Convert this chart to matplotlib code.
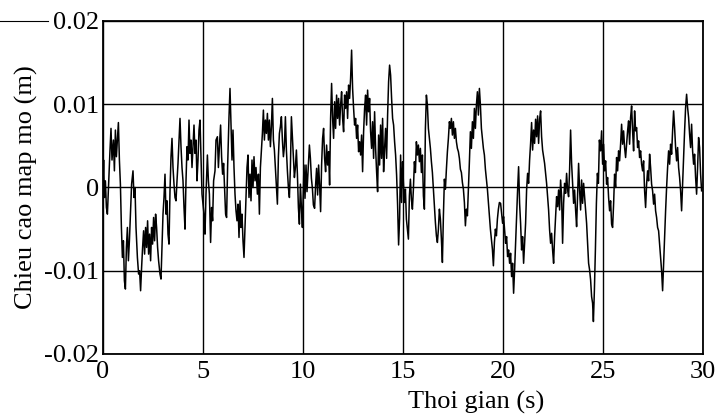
import numpy as np
import matplotlib.pyplot as plt
from matplotlib.lines import Line2D

plt.rcParams['font.family'] = ['Liberation Serif', 'DejaVu Serif']

# ==========================
# DATA, time in s, height in mm
# ==========================
t_0_5 = [0, 0.03, 0.07, 0.12, 0.17, 0.22, 0.28, 0.35, 0.4, 0.45,
         0.52, 0.57, 0.62, 0.67, 0.72, 0.77, 0.82, 0.87, 0.92, 0.97,
         1.02, 1.07, 1.12, 1.17, 1.22, 1.27, 1.32, 1.37, 1.43, 1.5,
         1.55, 1.6, 1.65, 1.72, 1.78, 1.83, 1.88, 1.93, 1.98, 2.03,
         2.08, 2.13, 2.18, 2.23, 2.28, 2.33, 2.38, 2.43, 2.48, 2.53,
         2.58, 2.63, 2.68, 2.73, 2.78, 2.85, 2.9, 2.95, 3.0, 3.05,
         3.1, 3.15, 3.2, 3.25, 3.3, 3.35, 3.4, 3.45, 3.5, 3.55,
         3.6, 3.65, 3.7, 3.75, 3.8, 3.85, 3.9, 3.95, 4.0, 4.05,
         4.1, 4.15, 4.2, 4.25, 4.3, 4.35, 4.4, 4.45, 4.5, 4.55,
         4.6, 4.65, 4.7, 4.75, 4.8, 4.85, 4.9, 4.95]
z_0_5 = [0.4, 3.3, -1.2, 0.8, -2.4, -3.2, 0.4, 4.5, 7.1, 3.3,
         5.7, 2.0, 6.9, 3.7, 5.7, 7.8, 3.3, 0.4, -4.8, -8.4,
         -6.4, -11.2, -12.2, -7.2, -4.8, -8.8, -6.4, -3.2, 0.4, 2.0,
         -1.2, 0, -4.8, -8.4, -10.4, -10, -12.4, -9.6, -7.2, -5.2,
         -8.0, -4.8, -7.2, -4.0, -8.0, -5.6, -8.8, -4.8, -6.8, -3.6,
         -6.4, -3.2, -4.8, -7.2, -8.8, -10.4, -11, -7.2, -3.2, -1.2,
         1.6, -3.2, -1.6, -5.6, -6.8, -0.4, 3.7, 5.9, 2.4, 0.4,
         -1.2, -1.6, 0.8, 2.9, 5.7, 8.3, 4.9, 2.4, 0.8, -2.4,
         -5.0, 0.8, 4.9, 3.3, 8.1, 4.1, 5.7, 2.4, 4.9, 7.5,
         4.1, 5.7, 0.8, 3.3, 6.9, 8.1, 3.7, -0.8]

t_5_10 = [5.05, 5.1, 5.15, 5.22, 5.27, 5.32, 5.38, 5.43, 5.48, 5.53,
          5.6, 5.65, 5.72, 5.77, 5.82, 5.88, 5.93, 5.98, 6.03, 6.08,
          6.13, 6.18, 6.23, 6.3, 6.35,
          6.4, 6.45, 6.5, 6.55, 6.6, 6.65, 6.7, 6.75, 6.8, 6.85,
          6.9, 6.95, 7.0, 7.05, 7.1, 7.15, 7.2, 7.25, 7.3, 7.35,
          7.4, 7.45, 7.5, 7.55, 7.6, 7.65,
          7.72, 7.77, 7.82, 7.87, 7.92, 7.97, 8.02, 8.07, 8.12, 8.17,
          8.22, 8.27, 8.32, 8.37, 8.42, 8.47, 8.52, 8.57, 8.62, 8.67,
          8.72, 8.77, 8.82, 8.87, 8.92, 8.97, 9.02, 9.07, 9.12, 9.17,
          9.22, 9.27, 9.32, 9.37, 9.42, 9.47, 9.52, 9.57, 9.62, 9.67,
          9.72, 9.77, 9.82, 9.87, 9.92, 9.97]
z_5_10 = [-3.2, -5.6, -0.8, 3.9, 0.8, -0.8, -6.6, -2.4, -4.0, 0.8,
          2.0, 5.7, 6.1, 2.4, 4.9, 7.5, 3.7, 1.6, 2.9, 0,
          -3.2, -3.6, 2.4, 8.5, 11.9,
          7.7, 3.3, 6.9, 2.4, -0.8, -2.8, -4.0, -2.0, -6.0, -1.6,
          -4.8, -3.2, -6.4, -8.4, -4.8, -1.2, 2.4, 3.9, -1.2, 1.6,
          -1.6, 3.3, 0, 3.7, 0.8, 2.4,
          -0.8, 1.6, -3.2, 2.4, 4.5, 6.5, 9.3, 5.7, 8.1, 6.5,
          8.9, 5.7, 8.1, 4.9, 7.3, 10.7, 5.7, 4.5, 2.4, 0.4,
          -2.0, 3.7, 6.5, 7.3, 8.5, 5.7, 3.7, 4.9, 8.5, 4.5,
          2.0, 0, -1.2, 2.4, 8.5, 6.1, 3.7, 1.2, 2.4, 4.5,
          1.6, -2.4, -4.4, 0.4, -2.4, -4.8]

t_10_15 = [10.05, 10.1, 10.15, 10.2, 10.25, 10.32, 10.37, 10.42, 10.47, 10.52,
           10.58, 10.63, 10.68, 10.73, 10.78, 10.83, 10.88, 10.93, 10.98, 11.03,
           11.08, 11.13, 11.18, 11.23, 11.28, 11.33, 11.38, 11.43, 11.48, 11.53,
           11.58, 11.63, 11.68, 11.73, 11.78, 11.83, 11.88, 11.93, 11.98, 12.03,
           12.08, 12.13, 12.18, 12.23, 12.28, 12.33, 12.38, 12.43, 12.48, 12.53,
           12.58, 12.63, 12.68, 12.73, 12.78, 12.83, 12.88, 12.93, 12.98, 13.03,
           13.08, 13.13, 13.18, 13.23, 13.28, 13.33, 13.38, 13.43, 13.48, 13.53,
           13.58, 13.63, 13.68, 13.73, 13.78, 13.83, 13.88, 13.93, 13.98, 14.03,
           14.08, 14.13, 14.18, 14.23, 14.28, 14.33, 14.38, 14.43, 14.48, 14.53,
           14.58, 14.63, 14.68, 14.73, 14.78, 14.83]
z_10_15 = [2.7, -1.3, 2.7, -0.5, 1.9, 5.1, 3.5, 1.1, -0.1, -2.1,
           -2.5, 0.3, 2.3, -0.9, 2.7, 0.3, -2.9, 2.7, 5.9, 7.1,
           3.5, 1.9, 5.1, 2.7, 4.3, 0.3, 8.3, 12.5, 8.3, 5.9,
           10.3, 7.1, 11.1, 8.3, 10.7, 7.5, 9.9, 11.5, 8.3, 6.7,
           11.1, 9.5, 11.5, 8.3, 12.3, 10.7, 13.1, 16.5, 11.9, 9.5,
           7.5, 8.3, 5.9, 7.5, 4.3, 5.5, 3.9, 6.3, 1.9, 6.7,
           9.5, 11.1, 7.5, 11.7, 9.1, 10.7, 6.7, 4.7, 7.9, 3.5,
           9.1, 4.7, 1.9, -0.5, 6.3, 2.7, 7.5, 3.5, 8.3, 1.9,
           4.7, 7.1, 3.5, 8.7, 12.7, 14.7, 13.5, 10.7, 8.3, 7.5,
           5.5, 3.9, 1.5, -2.1, -6.9, -3.7]

t_15_20 = [14.88, 14.93, 14.98, 15.02, 15.07, 15.12, 15.17, 15.22, 15.27, 15.32,
           15.37, 15.42, 15.47, 15.52, 15.57, 15.62, 15.67, 15.72, 15.77, 15.82,
           15.87, 15.92, 15.97, 16.02, 16.07, 16.12, 16.17, 16.22, 16.27, 16.32,
           16.37, 16.42, 16.47, 16.52, 16.57, 16.62, 16.67, 16.72, 16.77, 16.82,
           16.87, 16.92, 16.97, 17.02, 17.07, 17.12, 17.17, 17.22, 17.27, 17.32,
           17.37, 17.42, 17.47, 17.52, 17.57, 17.62, 17.67, 17.72, 17.77, 17.82,
           17.87, 17.92, 17.97, 18.02, 18.07, 18.12, 18.17, 18.22, 18.27, 18.32,
           18.37, 18.42, 18.47, 18.52, 18.57, 18.62, 18.67, 18.72, 18.77, 18.82,
           18.87, 18.92, 18.97, 19.02, 19.07, 19.12, 19.17, 19.22, 19.27, 19.32,
           19.37, 19.42, 19.47, 19.52, 19.57, 19.62, 19.67, 19.72, 19.77, 19.82]
z_15_20 = [3.9, -1.8, 3.1, 0.6, -1.8, -0.2, -3.8, -5.0, -6.2, -1.0,
           1.0, -1.4, -2.6, -0.2, 3.1, 1.8, 5.5, 3.9, 5.1, 3.1,
           4.7, 1.8, 3.9, -1.0, -2.6, 7.1, 11.1, 9.9, 7.1, 5.9,
           4.7, 3.1, 1.8, -0.2, -2.2, -4.2, -5.8, -6.6, -5.0, -2.6,
           -3.8, -6.2, -9.0, -3.4, 1.0, -0.2, 2.2, 4.3, 5.9, 7.9,
           7.1, 8.3, 6.3, 7.9, 5.9, 7.1, 5.5, 4.7, 4.3, 3.5,
           2.2, 1.8, 0.6, -0.2, -1.8, -4.6, -2.6, -3.4, -0.2, 3.1,
           6.7, 4.7, 7.9, 5.9, 9.5, 7.1, 9.9, 11.5, 8.7, 11.9,
           9.9, 7.1, 5.9, 4.7, 3.9, 2.2, 1.0, -0.2, -1.8, -3.4,
           -5.0, -6.2, -7.4, -9.4, -6.6, -5.0, -5.8, -3.8, -2.6, -1.8]

t_20_25 = [19.88, 19.93, 19.98, 20.03, 20.08, 20.13, 20.18, 20.23, 20.28, 20.33,
           20.38, 20.43, 20.48, 20.53, 20.58, 20.63, 20.68, 20.73, 20.78, 20.83,
           20.88, 20.93, 20.98, 21.03, 21.08, 21.13, 21.18, 21.23, 21.28, 21.33,
           21.38, 21.43, 21.48, 21.53, 21.58, 21.63, 21.68, 21.73, 21.78, 21.83,
           21.88, 21.93, 21.98, 22.03, 22.08, 22.13, 22.18, 22.23, 22.28, 22.33,
           22.38, 22.43, 22.48, 22.53, 22.58, 22.63, 22.68, 22.73, 22.78, 22.83,
           22.88, 22.93, 22.98, 23.03, 23.08, 23.13, 23.18, 23.23, 23.28, 23.33,
           23.38, 23.43, 23.48, 23.53, 23.58, 23.63, 23.68, 23.73, 23.78, 23.83,
           23.88, 23.93, 23.98, 24.03, 24.08, 24.13, 24.18, 24.23, 24.28, 24.33,
           24.38, 24.43, 24.48, 24.52, 24.57, 24.62, 24.67, 24.72, 24.77, 24.82]
z_20_25 = [-1.9, -3.1, -4.3, -3.5, -5.1, -6.7, -5.9, -8.3, -7.5, -9.1,
           -7.9, -10.7, -9.1, -12.7, -9.9, -6.7, -3.5, -0.3, 2.5, -1.9,
           -4.3, -7.5, -5.9, -9.1, -6.7, -4.3, -0.3, 1.7, 0.5, 3.3,
           5.3, 7.8, 4.5, 6.9, 5.3, 8.2, 6.1, 8.6, 5.3, 8.2,
           9.2, 6.1, 4.5, 3.7, 2.9, 1.7, 0.5, -1.1, -2.7, -5.1,
           -6.7, -5.5, -7.5, -9.1, -5.9, -3.5, -1.1, -2.3, -0.3, -2.7,
           0.9, -1.1, -6.7, -1.9, 0.5, -0.7, 1.7, -0.3, -1.1, 2.1,
           6.9, 2.9, 0.5, -1.9, -0.3, -2.7, -4.7, -1.1, 2.9, -0.3,
           -2.7, 0.9, -1.9, 0.5, -1.1, -2.7, -4.3, -6.7, -9.1, -9.9,
           -11.1, -13.1, -13.9, -16.1, -12.3, -7.5, -1.9, 1.7, 0.5, 5.7]

t_25_30 = [24.88, 24.93, 24.98, 25.03, 25.08, 25.13, 25.18, 25.23, 25.28, 25.33,
           25.38, 25.43, 25.48, 25.53, 25.58, 25.63, 25.68, 25.73, 25.78, 25.83,
           25.88, 25.93, 25.98, 26.03, 26.08, 26.13, 26.18, 26.23, 26.28, 26.33,
           26.38, 26.43, 26.48, 26.53, 26.58, 26.63, 26.68, 26.73, 26.78, 26.83,
           26.88, 26.93, 26.98, 27.03, 27.08, 27.13, 27.18, 27.23, 27.28, 27.33,
           27.38, 27.43, 27.48, 27.53, 27.58, 27.63, 27.68, 27.73, 27.78, 27.83,
           27.88, 27.93, 27.98, 28.03, 28.08, 28.13, 28.18, 28.23, 28.28, 28.33,
           28.38, 28.43, 28.48, 28.53, 28.58, 28.63, 28.68, 28.73, 28.78, 28.83,
           28.88, 28.93, 28.98, 29.03, 29.08, 29.13, 29.18, 29.23, 29.28, 29.33,
           29.38, 29.43, 29.48, 29.53, 29.58, 29.63, 29.68, 29.73, 29.78, 29.83,
           29.88, 29.93]
z_25_30 = [4.4, 6.8, 2.8, 5.2, 2.0, 3.2, 0.4, 1.2, -1.2, -2.8,
           -1.6, -4.4, -4.8, -2.0, 1.6, 0, 3.6, 2.0, 4.4, 3.2,
           5.2, 7.6, 5.2, 6.8, 4.8, 3.6, 5.2, 6.8, 8.0, 5.2,
           8.4, 9.8, 6.8, 4.4, 9.2, 6.8, 7.2, 4.8, 5.6, 3.6,
           4.4, 2.8, 2.0, 3.2, -0.4, -2.4, 0.4, 2.0, 0.8, 4.0,
           2.4, 0.4, -0.4, -2.0, -0.8, -2.8, -3.6, -4.8, -5.2, -6.8,
           -8.4, -10.0, -12.4, -9.2, -6.0, -2.8, 0, 2.4, 4.4, 2.8,
           5.2, 4.0, 6.8, 9.2, 7.2, 4.8, 3.2, 4.8, 2.4, 1.2,
           -0.4, -2.8, 0.4, 3.6, 6.8, 9.6, 11.2, 9.6, 8.4, 6.4,
           4.8, 7.6, 4.4, 2.8, 4.0, 1.2, -0.8, 2.4, 6.0, 4.8,
           1.6, -0.4]

x_ticks = [0, 5, 10, 15, 20, 25, 30]
y_ticks = [-0.02, -0.01, 0, 0.01, 0.02]
y_tick_labels = ['-0.02', '-0.01', '0', '0.01', '0.02']

t = np.concatenate([t_0_5, t_5_10, t_10_15, t_15_20, t_20_25, t_25_30])
z = np.concatenate([z_0_5, z_5_10, z_10_15, z_15_20, z_20_25, z_25_30]) / 1000.0

# ==========================
# PLOT
# ==========================
fig = plt.figure(figsize=(7.18, 4.19), dpi=100)
ax = fig.add_axes([103 / 718, 1 - 354 / 419, 600 / 718, 333 / 419])

ax.plot(t, z, color='black', linewidth=1.1)

ax.set_xlim(0, 30)
ax.set_ylim(-0.02, 0.02)
ax.set_xticks(x_ticks)
ax.set_yticks(y_ticks)
ax.set_yticklabels(y_tick_labels)
ax.grid(True, color='black', linewidth=1.0)
ax.tick_params(length=0, pad=3, labelsize=19)
ax.tick_params(axis='x', pad=5)
for s in ax.spines.values():
    s.set_linewidth(1.3)

ax.set_xlabel('Thoi gian (s)', fontsize=19)
ax.xaxis.set_label_coords((476 - 103) / 600, -0.112)
ax.set_ylabel('Chieu cao map mo (m)', fontsize=19, labelpad=4)

# scan rule line at the top left
fig.add_artist(Line2D([0, 48 / 718], [1 - 21 / 419] * 2,
                      transform=fig.transFigure, color='black', linewidth=0.8))

fig.savefig('out.png', dpi=100)
